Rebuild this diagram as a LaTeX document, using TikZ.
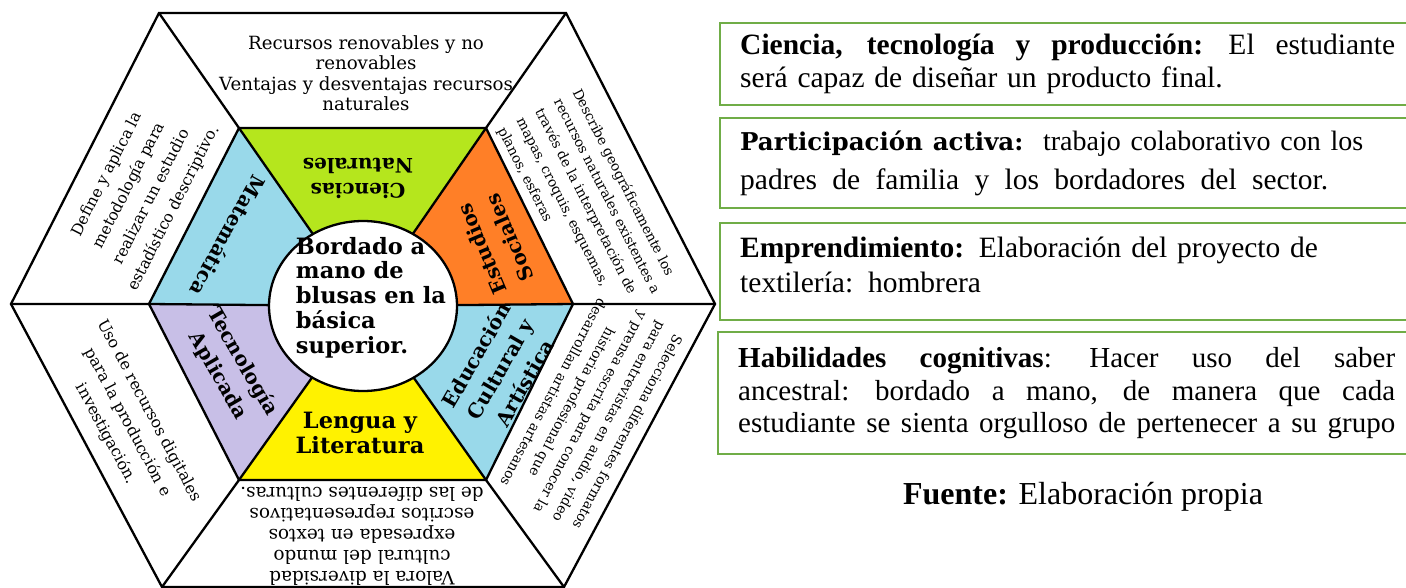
\documentclass[tikz,border=0pt]{standalone}
\usepackage{fontspec}
\setmainfont{Liberation Serif}
\newfontfamily\hexfont{DejaVu Serif}
\usetikzlibrary{positioning}
\tikzset{
	hexline/.style={line width=2.3pt, line join=miter},
	outtext/.style={inner sep=0, outer sep=0},
	subj/.style={inner sep=0, outer sep=0, font=\hexfont\bfseries\fsz{20}{25}},
	goalbox/.style={draw=boxColor, line width=2.4pt, minimum width=700pt, anchor=north west, inner sep=0},
	goaltext/.style={text width=660pt, align=left, inner sep=0, anchor=west}
}
\definecolor{cnColor}{HTML}{B5E61D}
\definecolor{esColor}{HTML}{FF7F27}
\definecolor{ecColor}{HTML}{99D9EA}
\definecolor{llColor}{HTML}{FFF200}
\definecolor{taColor}{HTML}{C8BFE7}
\definecolor{boxColor}{HTML}{70AD47}
\newcommand{\fsz}[2]{\fontsize{#1}{#2}\selectfont}
\newcommand{\jline}[2]{\leavevmode\hbox to #1{\spaceskip=.25em plus 1fil\xspaceskip=.4em plus 1fil\relax #2}}
\begin{document}
\begin{tikzpicture}[x=1pt, y=-1pt]
\useasboundingbox (0,0) rectangle (1406,588);
\coordinate (c) at (363, 306);
\coordinate (o1) at (159, 13);
\coordinate (o2) at (566, 13);
\coordinate (o3) at (715, 304);
\coordinate (o4) at (564, 587);
\coordinate (o5) at (162, 587);
\coordinate (o6) at (11, 304);
\coordinate (i1) at (239, 128);
\coordinate (i2) at (486, 128);
\coordinate (i3) at (573, 304);
\coordinate (i4) at (486, 480);
\coordinate (i5) at (239, 480);
\coordinate (i6) at (149, 304);
\fill[cnColor] (c) -- (i1) -- (i2) -- cycle;
\fill[esColor] (c) -- (i2) -- (i3) -- cycle;
\fill[ecColor] (c) -- (i3) -- (i4) -- cycle;
\fill[llColor] (c) -- (i4) -- (i5) -- cycle;
\fill[taColor] (c) -- (i5) -- (i6) -- cycle;
\fill[ecColor] (c) -- (i6) -- (i1) -- cycle;
\draw[hexline] (o1) -- (o2) -- (o3) -- (o4) -- (o5) -- (o6) -- cycle;
\draw[hexline] (i1) -- (i2) -- (i3) -- (i4) -- (i5) -- (i6) -- cycle;
\draw[hexline] (o1) -- (i1) -- (c) (o2) -- (i2) -- (c) (o3) -- (i3) -- (c)
	(o4) -- (i4) -- (c) (o5) -- (i5) -- (c) (o6) -- (i6) -- (c);
\draw[hexline, fill=white] (c) ellipse [x radius=94, y radius=85];
\node[outtext, font=\hexfont\fsz{18.2}{20.5}] (renov) at (366, 76) {\begin{tabular}{c} Recursos renovables y no\\ renovables\\ Ventajas y desventajas recursos\\ naturales \end{tabular}};
\node[outtext, rotate=63, font=\hexfont\fsz{15.6}{25}] (metod) at (140, 191) {\begin{tabular}{c} Define y aplica la\\ metodología para\\ realizar un estudio\\ estadístico descriptivo. \end{tabular}};
\node[outtext, rotate=-63, font=\hexfont\fsz{13.7}{21}] (geo) at (588, 206) {\begin{tabular}{l} Describe geográficamente los\\ recursos naturales existentes a\\ través de la interpretación de\\ mapas, croquis, esquemas,\\ planos, esferas \end{tabular}};
\node[outtext, rotate=-62, font=\hexfont\fsz{15.8}{24.5}] (digit) at (128, 422) {\begin{tabular}{c} Uso de recursos digitales\\ para la producción e\\ investigación. \end{tabular}};
\node[outtext, rotate=-118, font=\hexfont\fsz{13.8}{21}] (format) at (590, 412) {\begin{tabular}{c} Selecciona diferentes formatos\\ para entrevistas en audio, video\\ y prensa escrita para conocer la\\ historia profesional que\\ desarrollan artistas artesanos \end{tabular}};
\node[outtext, rotate=180, font=\hexfont\fsz{18.4}{21}] (divers) at (362, 534) {\begin{tabular}{c} Valora la diversidad\\ cultural del mundo\\ expresada en textos\\ escritos representativos\\ de las diferentes culturas. \end{tabular}};
\node[subj, rotate=180] (cn) at (358, 176) {\begin{tabular}{c} Ciencias\\ Naturales \end{tabular}};
\node[subj, rotate=113, font=\hexfont\bfseries\fsz{20}{30}] (es) at (497, 243) {\begin{tabular}{c} Estudios\\ Sociales \end{tabular}};
\node[subj, rotate=60, font=\hexfont\bfseries\fsz{20}{28}] (ec) at (502, 370) {\begin{tabular}{c} Educación\\ Cultural y\\ Artística \end{tabular}};
\node[subj, font=\hexfont\bfseries\fsz{22.5}{25}] (ll) at (360, 436) {\begin{tabular}{c} Lengua y\\ Literatura \end{tabular}};
\node[subj, rotate=-60, font=\hexfont\bfseries\fsz{20}{28}] (ta) at (230, 369) {\begin{tabular}{c} Tecnología\\ Aplicada \end{tabular}};
\node[subj, rotate=-119] (mat) at (228, 236) {Matemática};
\node[subj, font=\hexfont\bfseries\fsz{22.5}{24.7}] (hub) at (371, 299) {\begin{tabular}{l} Bordado a\\ mano de\\ blusas en la\\ básica\\ superior. \end{tabular}};
\node[goalbox, minimum height=82pt] (cien) at (719, 22) {};
\node[goaltext, right=21pt of cien.west, font=\fsz{29.5}{33}] (cientxt) {\jline{655pt}{\textbf{Ciencia, tecnología y producción:} El estudiante}\\ será capaz de diseñar un producto final.};
\node[goalbox, minimum height=90pt] (part) at (719, 117) {};
\node[goaltext, right=21pt of part.west, font=\fsz{29.5}{39}] (parttxt) {{\hexfont\bfseries\fsz{24.5}{39}Participación activa:}\ \ {\fsz{28}{39}trabajo colaborativo con los}\\ \jline{588pt}{padres de familia y los bordadores del sector.}};
\node[goalbox, minimum height=97pt] (empr) at (719, 222) {};
\node[goaltext, right=21pt of empr.west, yshift=7pt, font=\fsz{29.5}{35}] (emprtxt) {\textbf{Emprendimiento:} Elaboración del proyecto de\\ textilería: hombrera};
\node[goalbox, minimum height=122pt] (habil) at (717, 331) {};
\node[goaltext, right=21pt of habil.west, font=\fsz{29}{32.5}] (habiltxt) {\jline{657pt}{\textbf{Habilidades cognitivas}: Hacer uso del saber}\\ \jline{657pt}{ancestral: bordado a mano, de manera que cada}\\ \jline{657pt}{estudiante se sienta orgulloso de pertenecer a su grupo}};
\node[font=\fsz{32}{36}] (fuente) at (1083, 497) {\textbf{Fuente:} Elaboración propia};
\end{tikzpicture}
\end{document}
